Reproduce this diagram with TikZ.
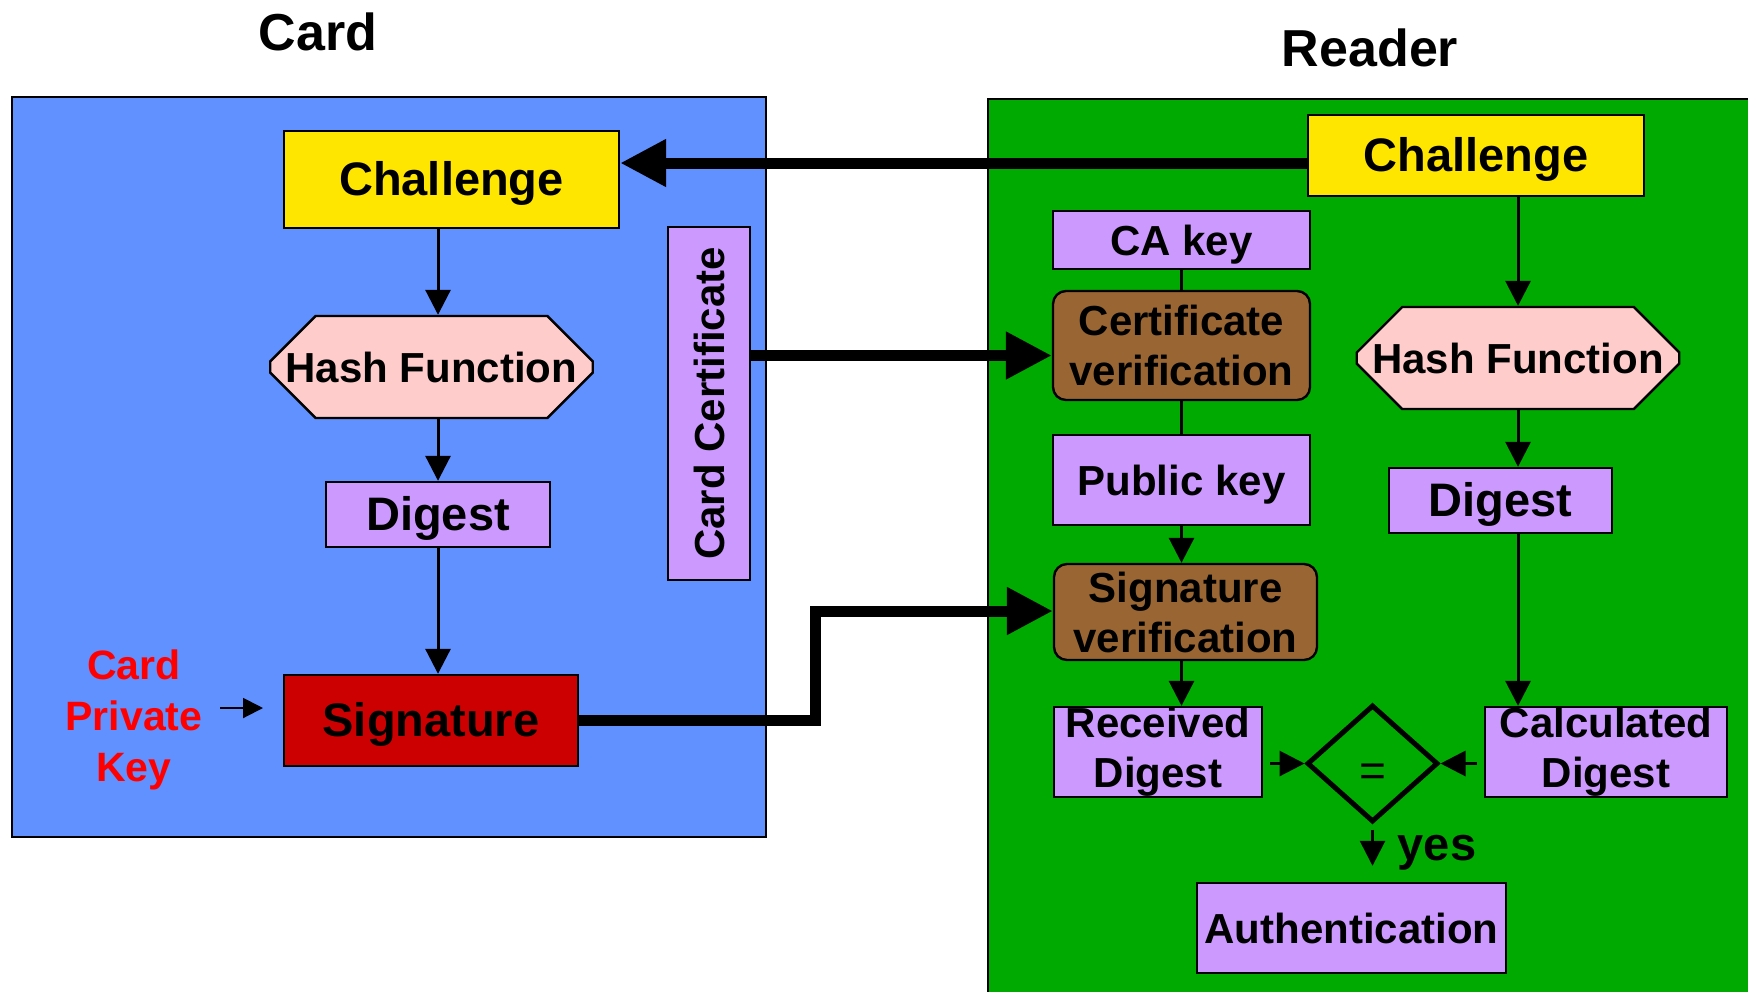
\documentclass[tikz,border=0pt]{standalone}
\usepackage{fontspec}
\setmainfont{Liberation Sans}
\usetikzlibrary{arrows.meta,shapes.misc,shapes.geometric}
\definecolor{cardblue}{RGB}{97,144,255}
\definecolor{readergreen}{RGB}{0,170,0}
\definecolor{chyellow}{RGB}{255,230,0}
\definecolor{hashpink}{RGB}{255,204,204}
\definecolor{lav}{RGB}{204,153,255}
\definecolor{brownbox}{RGB}{153,102,51}
\definecolor{sigred}{RGB}{204,0,0}
\definecolor{txtred}{RGB}{255,0,0}
\begin{document}
\begin{tikzpicture}[x=0.5pt,y=-0.5pt,
  box/.style={draw=black, line width=1.2pt, inner sep=0pt, align=center,
    font=\fontsize{21}{25}\selectfont\bfseries},
  bigtxt/.style={font=\fontsize{23.5}{28}\selectfont\bfseries, text height=21.15pt, text depth=4.7pt},
  oneline/.style={text height=19.5pt, text depth=4.2pt},
  lavbox/.style={box, fill=lav},
  brbox/.style={box, fill=brownbox, rounded corners=6.5pt},
  hashbox/.style={box, chamfered rectangle, fill=hashpink,
    chamfered rectangle xsep=15pt, chamfered rectangle ysep=15pt},
  panel/.style={draw=black, line width=1.2pt},
  title/.style={font=\fontsize{26}{30}\selectfont\bfseries},
  arr/.style={line width=1.5pt, -{Triangle[length=12.5pt,width=12.5pt]}},
  plain/.style={line width=1.5pt},
  smallarr/.style={line width=1pt, -{Triangle[length=10pt,width=10pt]}},
  bigarr/.style={line width=5.5pt, line join=miter, -{Triangle[length=23pt,width=22.5pt]}}
]
\useasboundingbox (0,0) rectangle (1748,991);
\clip (0,0) rectangle (1748,991);
\fill[white] (0,0) rectangle (1748,991);

% panels
\draw[panel, fill=cardblue] (12,97) rectangle (766,837);
\draw[panel, fill=readergreen] (988,99) rectangle (1770,1010);

% titles
\node[title] (tcard) at (318,32) {Card};
\node[title] (treader) at (1370,48) {Reader};

% card side
\node[box, bigtxt, fill=chyellow, minimum width=167.5pt, minimum height=48.5pt] (cch) at (451.5,179.5) {Challenge};
\node[hashbox, minimum width=160.5pt, minimum height=51pt] (chash) at (431.5,367) {Hash Function};
\node[lavbox, bigtxt, minimum width=112pt, minimum height=32.5pt] (cdig) at (438,514.5) {Digest};
\node[box, bigtxt, fill=sigred, minimum width=147pt, minimum height=45.5pt] (csig) at (431,720.5) {Signature};
\node[lavbox, rotate=90, minimum width=176.5pt, minimum height=41pt] (ccert) at (709,403.5) {Card Certificate};
\node[align=center, text=txtred, font=\fontsize{20.5}{25.5}\selectfont\bfseries] (pk) at (134,720) {Card\\Private\\Key};
\coordinate (pka) at (220,708);
\coordinate (pkb) at (263,708);

% reader side
\node[box, bigtxt, fill=chyellow, minimum width=168pt, minimum height=40.5pt] (rch) at (1476,155.5) {Challenge};
\node[lavbox, oneline, minimum width=128.5pt, minimum height=29pt] (rca) at (1181.5,240) {CA key};
\node[brbox, minimum width=128.5pt, minimum height=54.5pt] (rcv) at (1181.5,345.5) {Certificate\\verification};
\node[lavbox, oneline, minimum width=128.5pt, minimum height=45pt] (rpk) at (1181.5,480) {Public key};
\node[brbox, minimum width=131.5pt, minimum height=48pt] (rsv) at (1185.5,612) {Signature\\verification};
\node[lavbox, minimum width=104pt, minimum height=45pt] (rrd) at (1158,752) {Received\\Digest};
\node[hashbox, minimum width=161pt, minimum height=51pt] (rhash) at (1518,358) {Hash Function};
\node[lavbox, bigtxt, minimum width=111.5pt, minimum height=32.5pt] (rdig) at (1500.5,500.5) {Digest};
\node[lavbox, minimum width=121pt, minimum height=45pt] (rcd) at (1606,752) {Calculated\\Digest};
\node[diamond, draw=black, line width=2.5pt, inner sep=0pt, minimum width=65.5pt, minimum height=58.5pt,
  font=\fontsize{23}{25}\selectfont] (dia) at (1372.5,763.5) {\raisebox{-11.4pt}[0pt][0pt]{=}};
\node[lavbox, oneline, minimum width=154.5pt, minimum height=45pt] (rauth) at (1351.5,928) {Authentication};
\node[font=\fontsize{23.5}{28}\selectfont\bfseries] (yes) at (1437,853) {yes};

% card connectors
\draw[arr] (cch.south -| cdig.center) -- (chash.north -| cdig.center);
\draw[arr] (chash.south -| cdig.center) -- (cdig.north);
\draw[arr] (cdig.south) -- (csig.north -| cdig.center);
\draw[smallarr] (pka) -- (pkb);

% cross connectors
\draw[bigarr] ([yshift=-3.75pt]rch.west) -- ([yshift=-3.75pt]rch.west -| cch.east);
\draw[bigarr] ([yshift=-5pt]rcv.west -| ccert.south) -- ([yshift=-5pt]rcv.west);
\coordinate (bend) at (815,611);
\draw[bigarr] (csig.east) -| (bend) -- (bend -| rsv.west);

% reader connectors
\draw[plain] (rca.south) -- (rcv.north);
\draw[plain] (rcv.south) -- (rpk.north);
\draw[arr] (rpk.south) -- (rsv.north -| rpk.south);
\draw[arr] (rsv.south -| rpk.south) -- (rrd.north -| rpk.south);
\draw[arr] (rch.south -| rhash.north) -- (rhash.north);
\draw[arr] (rhash.south) -- (rdig.north -| rhash.south);
\draw[arr] (rdig.south -| rhash.south) -- (rcd.north -| rhash.south);
\draw[arr, shorten <=3.5pt] (rrd.east |- dia.west) -- (dia.west);
\draw[arr, shorten <=3.5pt] (rcd.west |- dia.east) -- (dia.east);
\draw[arr, line width=1.3pt, shorten <=2.5pt, shorten >=8pt] (dia.south) -- (rauth.north -| dia.south);
\end{tikzpicture}
\end{document}
